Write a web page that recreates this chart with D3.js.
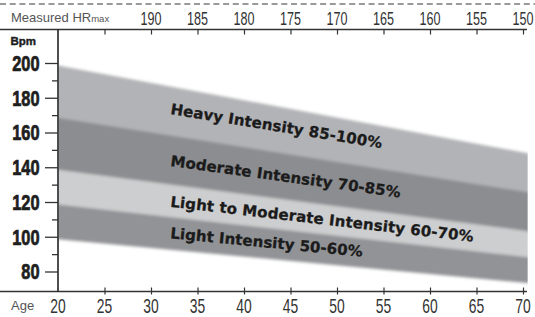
<!DOCTYPE html>
<html>
<head>
<meta charset="utf-8">
<script src="https://cdn.jsdelivr.net/npm/d3@7"></script>
<style>
  html, body { margin: 0; padding: 0; background: #fff; }
  svg { display: block; }
</style>
</head>
<body>
<svg id="chart" width="535" height="317"></svg>
<script>
// values
const ageTicks = [20, 25, 30, 35, 40, 45, 50, 55, 60, 65, 70];
const hrMaxTicks = [195, 190, 185, 180, 175, 170, 165, 160, 155, 150];
const hrMaxLabels = [190, 185, 180, 175, 170, 165, 160, 155, 150];
const bpmTicks = [80, 90, 100, 110, 120, 130, 140, 150, 160, 170, 180, 190, 200];
const bpmLabels = [80, 100, 120, 140, 160, 180, 200];
// band edge: age vs HRmax at the left and right ends of the shaded zones
const bandAges = [20, 70.5];
const bandHrMax = [200, 149.5];
// intensity zones, % of HRmax
const zoneNames = [
  'Heavy Intensity 85-100%',
  'Moderate Intensity 70-85%',
  'Light to Moderate Intensity 60-70%',
  'Light Intensity 50-60%',
];
const zoneLow = [85, 70, 60, 50];
const zoneHigh = [100, 85, 70, 60];

// styles / layout (kept apart from the data)
const zoneColors = ['#b2b3b6', '#8c8d90', '#cdcecf', '#929396'];
const labelLayout = [
  { x: 170, y: 114, angle: 9.2, len: 214 },
  { x: 170, y: 166, angle: 7.8, len: 232 },
  { x: 170, y: 206.7, angle: 6.6, len: 305 },
  { x: 170, y: 238.3, angle: 5.5, len: 193 },
];

const svg = d3.select('#chart');
const x = d3.scaleLinear().domain([20, 70]).range([58, 523]);
const xHr = d3.scaleLinear().domain([200, 150]).range([58, 523]);
const y = d3.scaleLinear().domain([80, 200]).range([271.5, 63]);
const topY = 29.5;
const bottomY = 291.5;

// dashed rule at the very top
svg.append('line')
  .attr('x1', 0).attr('x2', 535)
  .attr('y1', 4).attr('y2', 4)
  .attr('stroke', '#9a9a9a')
  .attr('stroke-width', 2)
  .attr('stroke-dasharray', '6 3.7');

// shaded zones
const defs = svg.append('defs');
defs.append('clipPath').attr('id', 'plotClip')
  .append('rect')
  .attr('x', 58.8).attr('y', topY)
  .attr('width', 480).attr('height', bottomY - topY);
defs.append('filter').attr('id', 'soft')
  .attr('filterUnits', 'userSpaceOnUse')
  .attr('x', 0).attr('y', 0).attr('width', 535).attr('height', 317)
  .append('feGaussianBlur')
  .attr('stdDeviation', '0 1.8');

const pts = bandAges.map((a, i) => ({ age: a, hr: bandHrMax[i] }));

const bands = svg.append('g')
  .attr('clip-path', 'url(#plotClip)')
  .append('g')
  .attr('filter', 'url(#soft)')
  .attr('transform', 'translate(0,2.5)');

zoneNames.forEach((name, i) => {
  const area = d3.area()
    .x((d) => x(d.age))
    .y0((d) => y((d.hr * zoneLow[i]) / 100) + (i === zoneNames.length - 1 ? 0 : 1))
    .y1((d) => y((d.hr * zoneHigh[i]) / 100));
  bands.append('path')
    .datum(pts)
    .attr('d', area)
    .attr('fill', zoneColors[i]);
});

// zone labels
zoneNames.forEach((name, i) => {
  const l = labelLayout[i];
  svg.append('text')
    .attr('transform', `translate(${l.x},${l.y}) rotate(${l.angle})`)
    .attr('textLength', l.len)
    .attr('lengthAdjust', 'spacing')
    .style('font-family', '"DejaVu Sans", sans-serif')
    .style('font-weight', 'bold')
    .style('font-size', '15px')
    .style('fill', '#1b1b1b')
    .style('stroke', '#1b1b1b')
    .style('stroke-width', 0.3)
    .text(name);
});

// axis lines
svg.append('line')
  .attr('x1', 0).attr('x2', 527)
  .attr('y1', topY).attr('y2', topY)
  .attr('stroke', '#333').attr('stroke-width', 1.3);
svg.append('line')
  .attr('x1', 0).attr('x2', 527)
  .attr('y1', bottomY).attr('y2', bottomY)
  .attr('stroke', '#333').attr('stroke-width', 1.3);
svg.append('line')
  .attr('x1', 58).attr('x2', 58)
  .attr('y1', topY).attr('y2', bottomY)
  .attr('stroke', '#222').attr('stroke-width', 1.6);

// top axis: measured HRmax
const topAxis = svg.append('g')
  .attr('transform', `translate(0,${topY})`)
  .call(d3.axisTop(xHr).tickValues(hrMaxTicks).tickSize(-5).tickFormat(''));
topAxis.select('.domain').remove();
topAxis.selectAll('line').attr('stroke', '#333').attr('stroke-width', 1.2);

svg.append('g')
  .selectAll('text')
  .data(hrMaxLabels)
  .join('text')
  .attr('transform', (d) => `translate(${xHr(d)},24.5) scale(0.74,1.03)`)
  .attr('text-anchor', 'middle')
  .style('font-family', '"Liberation Sans", Arial, sans-serif')
  .style('font-size', '17px')
  .style('fill', '#333')
  .text((d) => d);

const hrTitle = svg.append('text')
  .attr('x', 11).attr('y', 21.5)
  .style('font-family', '"Liberation Sans", Arial, sans-serif')
  .style('font-size', '13px')
  .style('fill', '#555');
hrTitle.append('tspan').text('Measured HR');
hrTitle.append('tspan').style('font-size', '9.5px').text('max');

// bottom axis: age
const bottomAxis = svg.append('g')
  .attr('transform', `translate(0,${bottomY})`)
  .call(d3.axisBottom(x).tickValues(ageTicks.slice(1)).tickSize(3).tickFormat(''));
bottomAxis.select('.domain').remove();
bottomAxis.selectAll('line').attr('y1', -4).attr('stroke', '#333').attr('stroke-width', 1.2);

svg.append('g')
  .selectAll('text')
  .data(ageTicks)
  .join('text')
  .attr('transform', (d) => `translate(${x(d)},313) scale(0.66,1)`)
  .attr('text-anchor', 'middle')
  .style('font-family', '"Liberation Sans", Arial, sans-serif')
  .style('font-size', '21px')
  .style('fill', '#333')
  .text((d) => d);

svg.append('text')
  .attr('x', 11).attr('y', 310)
  .style('font-family', '"Liberation Sans", Arial, sans-serif')
  .style('font-size', '13px')
  .style('fill', '#555')
  .text('Age');

// left axis: bpm
const leftAxis = svg.append('g')
  .attr('transform', 'translate(58,0)')
  .call(d3.axisLeft(y).tickValues(bpmTicks).tickSize(13).tickFormat(''));
leftAxis.select('.domain').remove();
leftAxis.selectAll('.tick line')
  .attr('x2', (d) => (bpmLabels.includes(d) ? -13 : -6))
  .attr('stroke', '#333')
  .attr('stroke-width', 1.3);

svg.append('g')
  .selectAll('text')
  .data(bpmLabels)
  .join('text')
  .attr('transform', (d) => `translate(39.5,${y(d) + 7.8}) scale(0.78,1.04)`)
  .attr('text-anchor', 'end')
  .style('font-family', '"Liberation Sans", Arial, sans-serif')
  .style('font-weight', 'bold')
  .style('font-size', '21px')
  .style('fill', '#1e1e1e')
  .style('stroke', '#1e1e1e')
  .style('stroke-width', 0.7)
  .text((d) => d);

svg.append('text')
  .attr('x', 10.5).attr('y', 45)
  .style('font-family', '"Liberation Sans", Arial, sans-serif')
  .style('font-weight', 'bold')
  .style('font-size', '11.5px')
  .style('fill', '#1e1e1e')
  .style('stroke', '#1e1e1e')
  .style('stroke-width', 0.4)
  .text('Bpm');
</script>
</body>
</html>
